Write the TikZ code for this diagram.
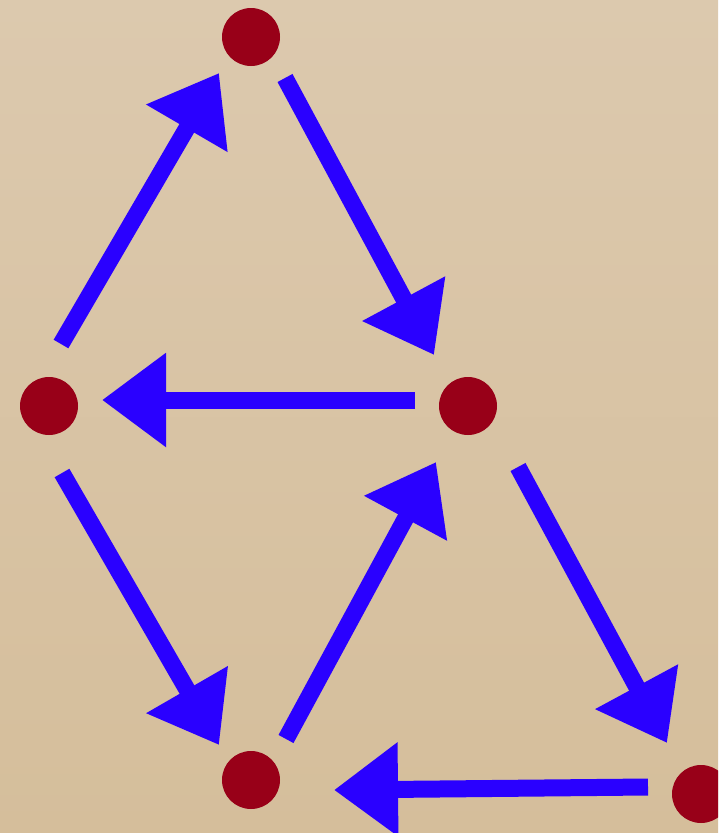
\documentclass[tikz,border=0pt]{standalone}
\usetikzlibrary{arrows.meta,calc}
\definecolor{paperTop}{RGB}{220,201,174}
\definecolor{paperBot}{RGB}{213,190,155}
\definecolor{dotred}{RGB}{152,0,24}
\definecolor{arrowblue}{RGB}{42,0,255}
\tikzset{
  dot/.style={circle,fill=dotred,draw=none,minimum size=58pt,inner sep=0pt},
  flow/.style={draw=arrowblue,line width=17pt,-{Triangle[length=64pt,width=90pt]},fill=arrowblue}
}
\begin{document}
\begin{tikzpicture}[x=1pt,y=-1pt]
\useasboundingbox (0,0) rectangle (718,833);
\clip (0,0) rectangle (718,833);
\shade[top color=paperTop,bottom color=paperBot] (0,0) rectangle (718,833);
\node[dot] (T) at (251,37) {};
\node[dot] (L) at (49,406) {};
\node[dot] (R) at (468,406) {};
\node[dot] (B) at (251,780) {};
\node[dot] (BR) at (701,794) {};
\draw[flow] ($(L)+(12,-62)$) -- ($(T)+(-32,36)$);
\draw[flow] ($(T)+(34,41)$) -- ($(R)+(-34,-51)$);
\draw[flow] ($(R)+(-53,-6)$) -- ($(L)+(53,-6)$);
\draw[flow] ($(L)+(13,67)$) -- ($(B)+(-32,-35)$);
\draw[flow] ($(B)+(35,-41)$) -- ($(R)+(-32,56)$);
\draw[flow] ($(R)+(50,61)$) -- ($(BR)+(-34,-51)$);
\draw[flow] ($(BR)+(-53,-7)$) -- ($(B)+(83,10)$);
\end{tikzpicture}
\end{document}
